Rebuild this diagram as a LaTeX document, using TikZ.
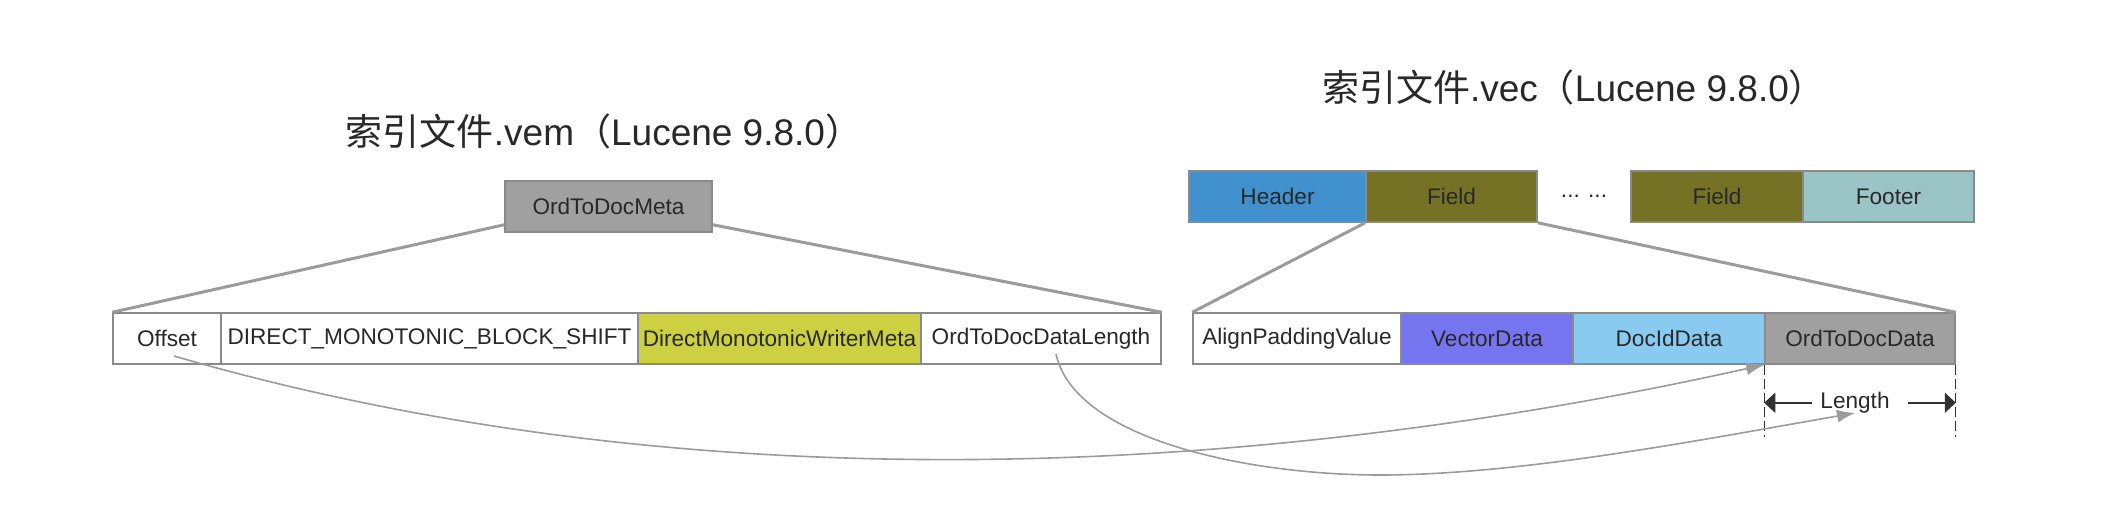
\documentclass[tikz,border=0pt]{standalone}
\usepackage{fontspec}
\setmainfont{Liberation Sans}
\newfontfamily\cjk{Noto Sans CJK SC}
\usetikzlibrary{arrows.meta,calc}
\definecolor{bordergray}{RGB}{138,138,138}
\definecolor{linegray}{RGB}{155,155,155}
\definecolor{txt}{RGB}{40,40,40}
\definecolor{metagray}{RGB}{160,160,160}
\definecolor{yelgreen}{RGB}{205,208,64}
\definecolor{hdrblue}{RGB}{64,145,205}
\definecolor{olive}{RGB}{117,114,38}
\definecolor{ftrteal}{RGB}{155,196,198}
\definecolor{vecblue}{RGB}{117,117,240}
\definecolor{docblue}{RGB}{137,203,240}
\definecolor{dimgray}{RGB}{50,50,50}
\tikzset{
  cell/.style={draw=bordergray, line width=0.75pt, minimum height=25.5pt, inner sep=0pt,
    font=\fontsize{11.3}{13}\selectfont, text=txt},
  zoomline/.style={draw=linegray, line width=1.5pt},
  curvearrow/.style={draw=linegray, line width=0.8pt, -{Latex[length=9pt,width=6.5pt]}},
  dimline/.style={draw=dimgray, line width=0.6pt, dash pattern=on 5pt off 2pt},
  dimarrow/.style={draw=dimgray, line width=0.9pt, -{Triangle[length=5.5pt,width=10pt]}},
  titletext/.style={font=\fontsize{18.5}{22}\selectfont, text=txt, inner sep=0pt},
}
\begin{document}
\begin{tikzpicture}[x=0.5pt,y=-0.5pt]
\useasboundingbox (0,0) rectangle (2110,526);
% titles
\node[titletext] (tvem) at (604,131) {{\cjk 索引文件}.vem{\cjk （}Lucene 9.8.0{\cjk ）}};
\node[titletext] (tvec) at (1574,87) {{\cjk 索引文件}.vec{\cjk （}Lucene 9.8.0{\cjk ）}};
% left side
\node[cell, fill=metagray, minimum width=103.5pt] (meta) at (608.5,206.5) {OrdToDocMeta};
\node[cell, fill=white, minimum width=54pt] (offset) at (167,338.5) {Offset};
\node[cell, fill=white, minimum width=208.5pt] (shift) at (429.5,338.5) {DIRECT\_MONOTONIC\_BLOCK\_SHIFT};
\node[cell, fill=yelgreen, minimum width=141.5pt] (dmw) at (779.5,338.5) {DirectMonotonicWriterMeta};
\node[cell, fill=white, minimum width=120pt] (odlen) at (1041,338.5) {OrdToDocDataLength};
% right side top
\node[cell, fill=hdrblue, minimum width=88.5pt] (header) at (1277.5,196.5) {Header};
\node[cell, fill=olive, minimum width=85.5pt] (field1) at (1451.5,196.5) {Field};
\node[font=\fontsize{11.3}{13}\selectfont, text=txt, inner sep=0pt] (dots) at (1584,196.5) {... ...};
\node[cell, fill=olive, minimum width=86pt] (field2) at (1717,196.5) {Field};
\node[cell, fill=ftrteal, minimum width=85.5pt] (footer) at (1888.5,196.5) {Footer};
% right side bottom
\node[cell, fill=white, minimum width=104pt] (align) at (1297,338.5) {AlignPaddingValue};
\node[cell, fill=vecblue, minimum width=86pt] (vdata) at (1487,338.5) {VectorData};
\node[cell, fill=docblue, minimum width=96pt] (docid) at (1669,338.5) {DocIdData};
\node[cell, fill=metagray, minimum width=95pt] (ord) at (1860,338.5) {OrdToDocData};
% zoom lines
\draw[zoomline] ([yshift=4pt]meta.south west) -- (offset.north west);
\draw[zoomline] ([yshift=4pt]meta.south east) -- (odlen.north east);
\draw[zoomline] (field1.south west) -- (align.north west);
\draw[zoomline] (field1.south east) -- (ord.north east);
% length dimension
\coordinate (dl) at ($(ord.south west)+(0,72)$);
\coordinate (dr) at ($(ord.south east)+(0,72)$);
\draw[dimline] (ord.south west) -- (dl);
\draw[dimline] (ord.south east) -- (dr);
\node[font=\fontsize{11.3}{13}\selectfont, text=txt, inner sep=0pt] (lenlbl) at ($(ord.south)+(-5,38)$) {Length};
\coordinate (al) at ($(ord.south west)+(0,38)$);
\coordinate (ar) at ($(ord.south east)+(0,38)$);
\draw[dimarrow] ($(lenlbl.west)+(-8,0)$) -- (al);
\draw[dimarrow] ($(lenlbl.east)+(18,0)$) -- (ar);
% curves
\coordinate (c1s) at (174,356);
\coordinate (c2s) at (1056,354);
\coordinate (c2b) at (1380,475);
\coordinate (c2e) at (1855,413);
\draw[curvearrow] (c1s) .. controls (650,494) and (1200,490) .. (ord.south west);
\draw[curvearrow] (c2s) .. controls (1075,440) and (1250,475) .. (c2b)
  .. controls (1520,475) and (1700,440) .. (c2e);
\end{tikzpicture}
\end{document}
